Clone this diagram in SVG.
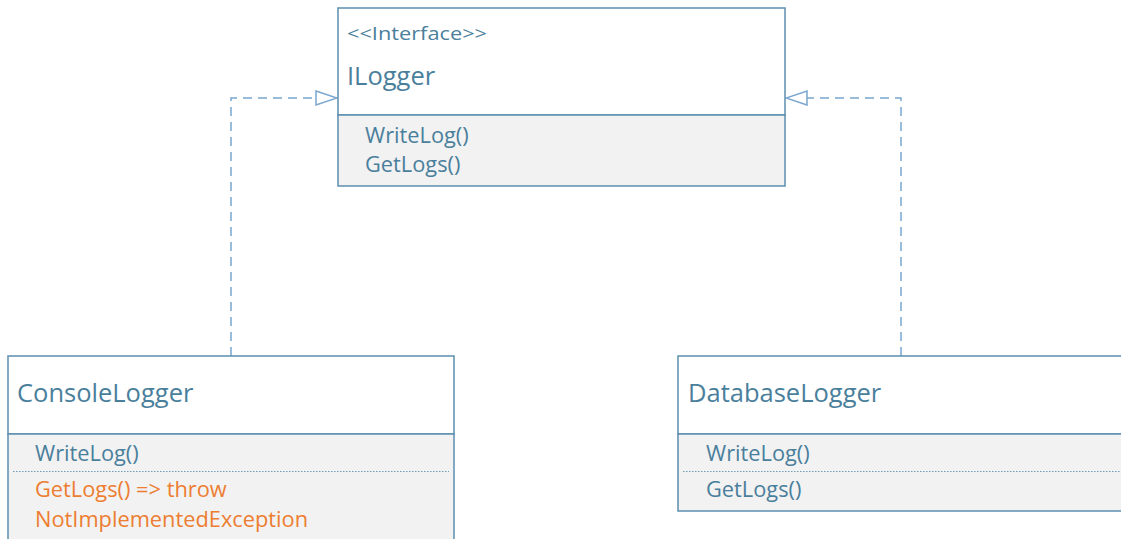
<svg xmlns="http://www.w3.org/2000/svg" width="1121" height="539" viewBox="0 0 1121 539">
<style>
.box{fill:#ffffff;stroke:#5b8fae;stroke-width:1.5}
.comp{fill:#f2f2f2;stroke:#5b8fae;stroke-width:1.5}
.dot{stroke:#6f9bb5;stroke-width:1;stroke-dasharray:1.5 1.5;fill:none}
text{font-family:"Open Sans","Liberation Sans",sans-serif;fill:#4a7f9c}
.st{font-size:19px}
.nm{font-size:25.5px}
.mb{font-size:21.8px}
.or{fill:#ed7d31}
.conn{fill:none;stroke:#7aa6cf;stroke-width:1.5;stroke-dasharray:9 6}
</style>
<defs>
<marker id="tri" markerWidth="24" markerHeight="18" refX="22" refY="8" orient="auto" markerUnits="userSpaceOnUse">
<path d="M1,1 L22,8 L1,15 Z" fill="#ffffff" stroke="#7aa6cf" stroke-width="1.5"/>
</marker>
</defs>
<g id="connectors">
<path class="conn" d="M231,356 V98 H337" marker-end="url(#tri)"/>
<path class="conn" d="M901,356 V98 H786" marker-end="url(#tri)"/>
</g>
<g id="ILogger">
<rect class="box" x="338" y="8" width="447" height="107"/>
<rect class="comp" x="338" y="115" width="447" height="71"/>
<text class="st" x="347" y="40" textLength="140" lengthAdjust="spacingAndGlyphs">&lt;&lt;Interface&gt;&gt;</text>
<text class="nm" x="347" y="85">ILogger</text>
<text class="mb" x="365" y="143">WriteLog()</text>
<text class="mb" x="365" y="172">GetLogs()</text>
</g>
<g id="ConsoleLogger">
<rect class="box" x="8" y="356" width="446" height="78"/>
<rect class="comp" x="8" y="434" width="446" height="110"/>
<line class="dot" x1="13" y1="471.5" x2="449" y2="471.5"/>
<text class="nm" x="17" y="402">ConsoleLogger</text>
<text class="mb" x="35" y="461">WriteLog()</text>
<text class="mb or" x="35" y="497">GetLogs() =&gt; throw</text>
<text class="mb or" x="35" y="527">NotImplementedException</text>
</g>
<g id="DatabaseLogger">
<rect class="box" x="678" y="356" width="450" height="78"/>
<rect class="comp" x="678" y="434" width="450" height="77"/>
<line class="dot" x1="683" y1="471.5" x2="1121" y2="471.5"/>
<text class="nm" x="688" y="402">DatabaseLogger</text>
<text class="mb" x="706" y="461">WriteLog()</text>
<text class="mb" x="706" y="497">GetLogs()</text>
</g>
</svg>
